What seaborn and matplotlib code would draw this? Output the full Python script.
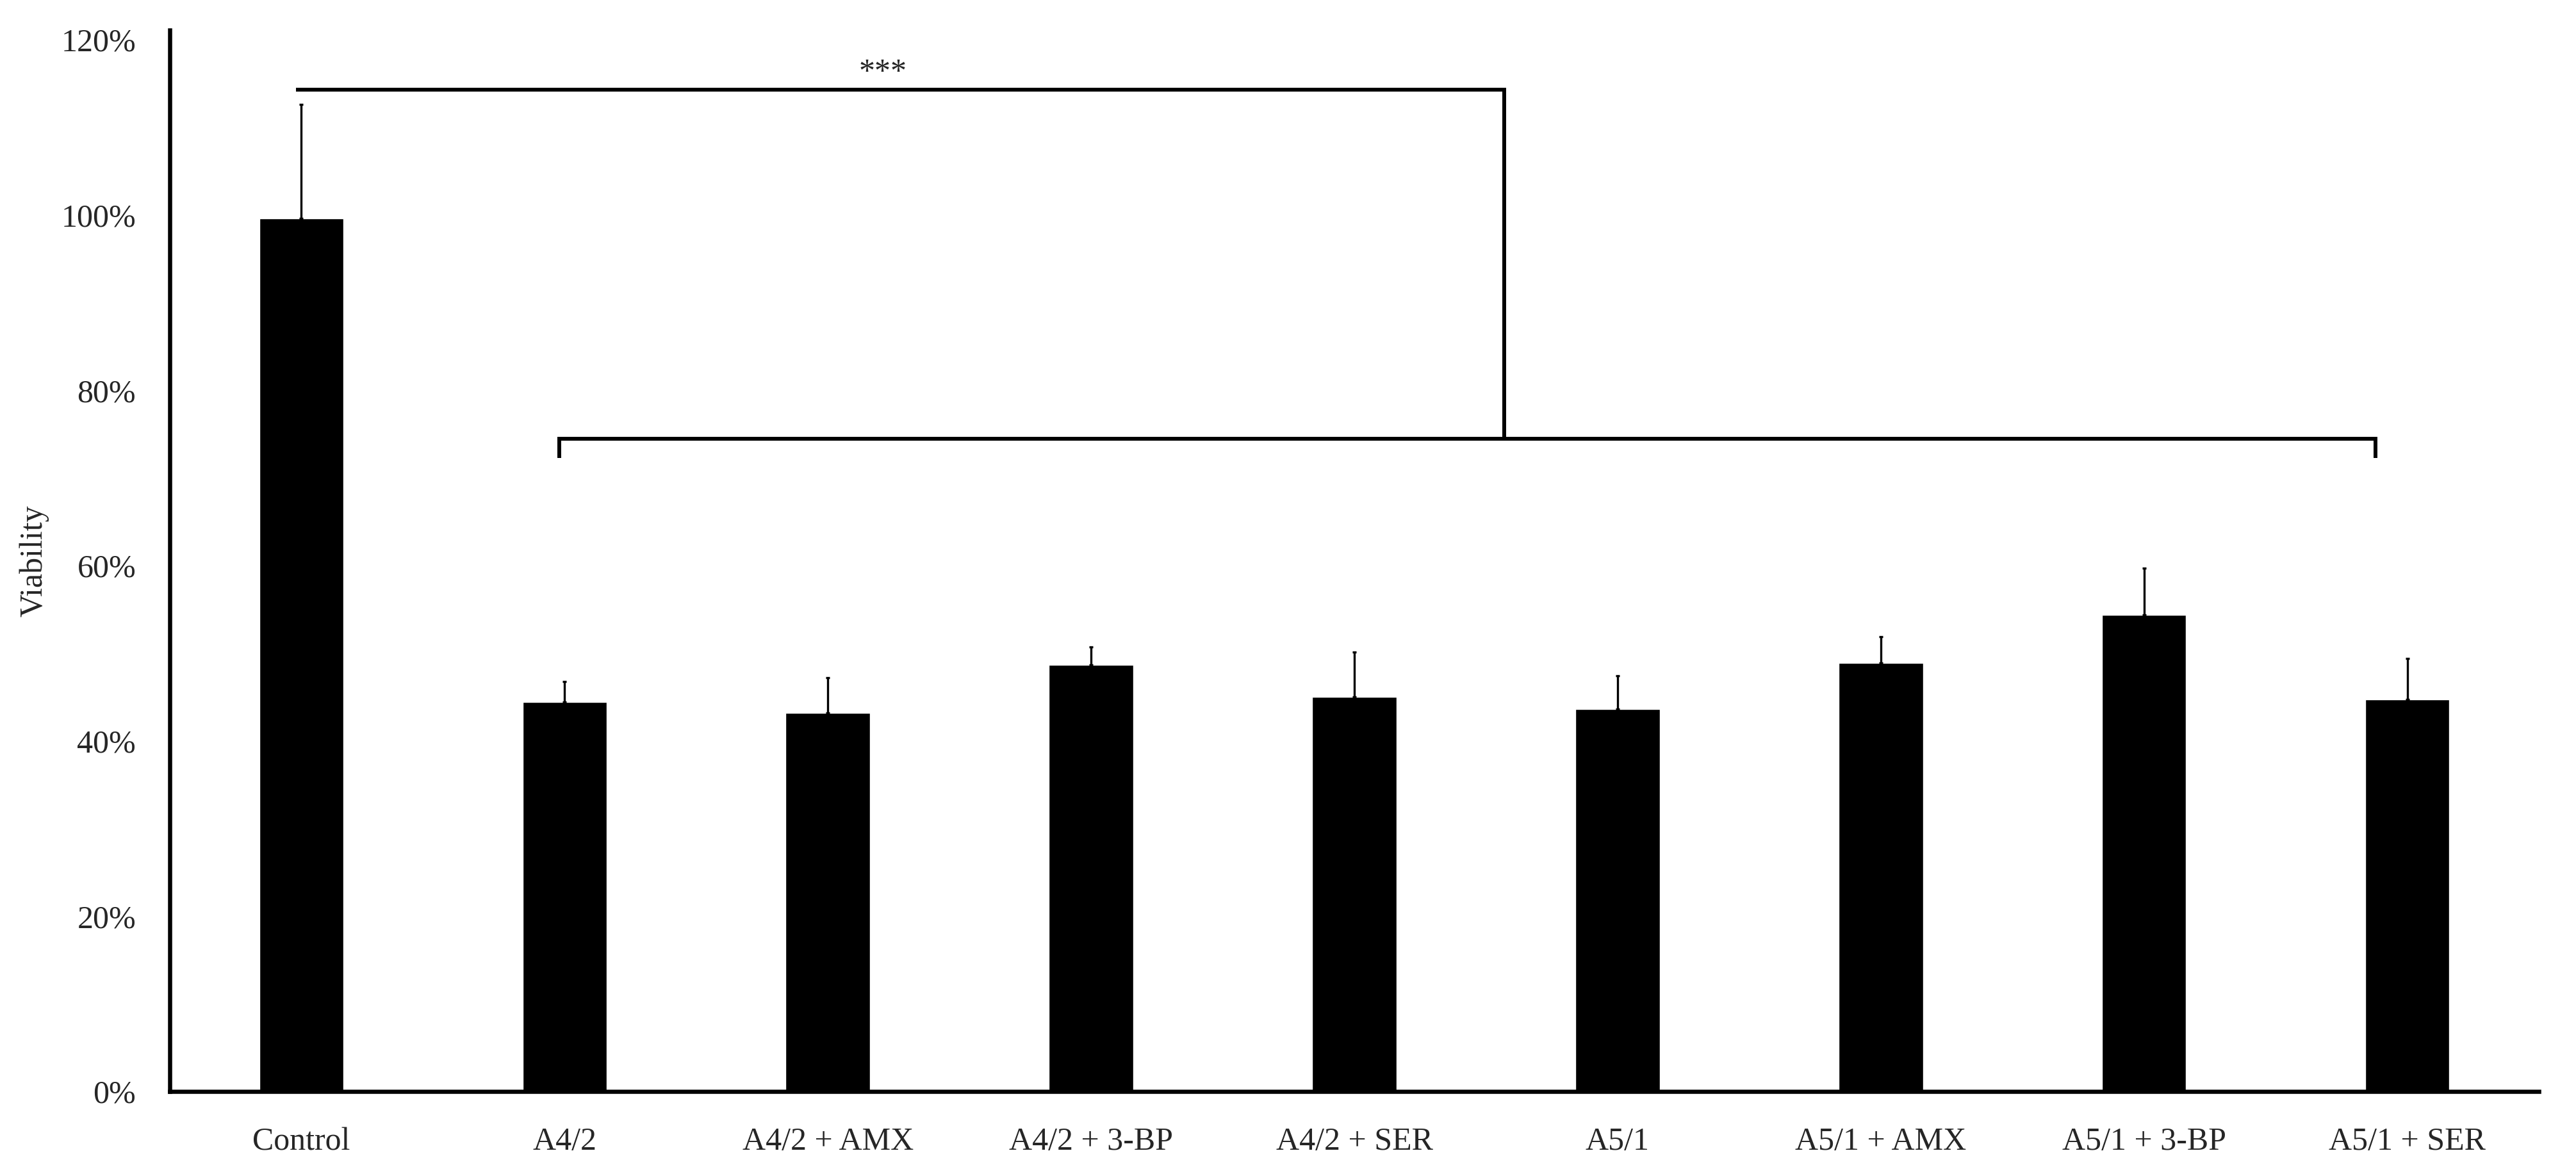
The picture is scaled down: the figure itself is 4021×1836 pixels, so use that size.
import numpy as np
import pandas as pd
import matplotlib
matplotlib.use("Agg")
import matplotlib.pyplot as plt
import seaborn as sns
from matplotlib.ticker import FuncFormatter

# values (viability, % of control)
groups = ["Control", "A4/2", "A4/2 + AMX", "A4/2 + 3-BP", "A4/2 + SER",
          "A5/1", "A5/1 + AMX", "A5/1 + 3-BP", "A5/1 + SER"]
viability = [99.6, 44.4, 43.2, 48.7, 45.0, 43.6, 48.9, 54.4, 44.7]
sd_upper = [13.0, 2.4, 4.0, 2.0, 5.1, 3.8, 3.0, 5.3, 4.7]
y_ticks = [0, 20, 40, 60, 80, 100, 120]

# significance bracket: Control vs all treatments
stars = "***"
bracket_top = 114.3
bracket_low = 74.5
bracket_tick = 72.3
bracket_drop = 4.57

data = pd.DataFrame({"group": groups, "viability": viability})

sns.set_style("white")
plt.rcParams["font.family"] = ["Liberation Serif", "DejaVu Serif"]

fig = plt.figure(figsize=(40.21, 18.36), dpi=100)
ax = fig.add_axes([0.0659, 0.0719, 0.9197, 0.9025])

sns.barplot(data=data, x="group", y="viability", color="black",
            width=0.32, saturation=1, errorbar=None, ax=ax)
xs = np.arange(len(groups))
ax.errorbar(xs, viability, yerr=[np.zeros(len(groups)), sd_upper], fmt="none",
            ecolor="black", elinewidth=2.4, capsize=2, capthick=2.4)

# bracket lines
lw = 4.3
ax.plot([xs[0] - 0.02, bracket_drop, bracket_drop],
        [bracket_top, bracket_top, bracket_low], color="black", lw=lw,
        solid_joinstyle="miter", solid_capstyle="butt")
ax.plot([xs[1] - 0.02, xs[1] - 0.02, xs[-1] - 0.12, xs[-1] - 0.12],
        [bracket_tick, bracket_low, bracket_low, bracket_tick], color="black",
        lw=lw, solid_joinstyle="miter", solid_capstyle="butt")
ax.text(2.21, 115.3, stars, ha="center", va="baseline", fontsize=36)

ax.set_xlim(-0.5, len(groups) - 0.5)
ax.set_ylim(0, 121.1)
ax.set_yticks(y_ticks)
ax.yaxis.set_major_formatter(FuncFormatter(lambda v, p: "{:.0f}%".format(v)))
ax.tick_params(axis="both", length=0, labelsize=36)
ax.tick_params(axis="y", pad=38)
ax.tick_params(axis="x", pad=40)
ax.set_xlabel("")
ax.set_ylabel("Viability", fontsize=36, labelpad=14)

sns.despine(ax=ax)
for side in ["left", "bottom"]:
    ax.spines[side].set_linewidth(4.7)
    ax.spines[side].set_color("black")

fig.savefig("out.png", dpi=100, facecolor="white")
